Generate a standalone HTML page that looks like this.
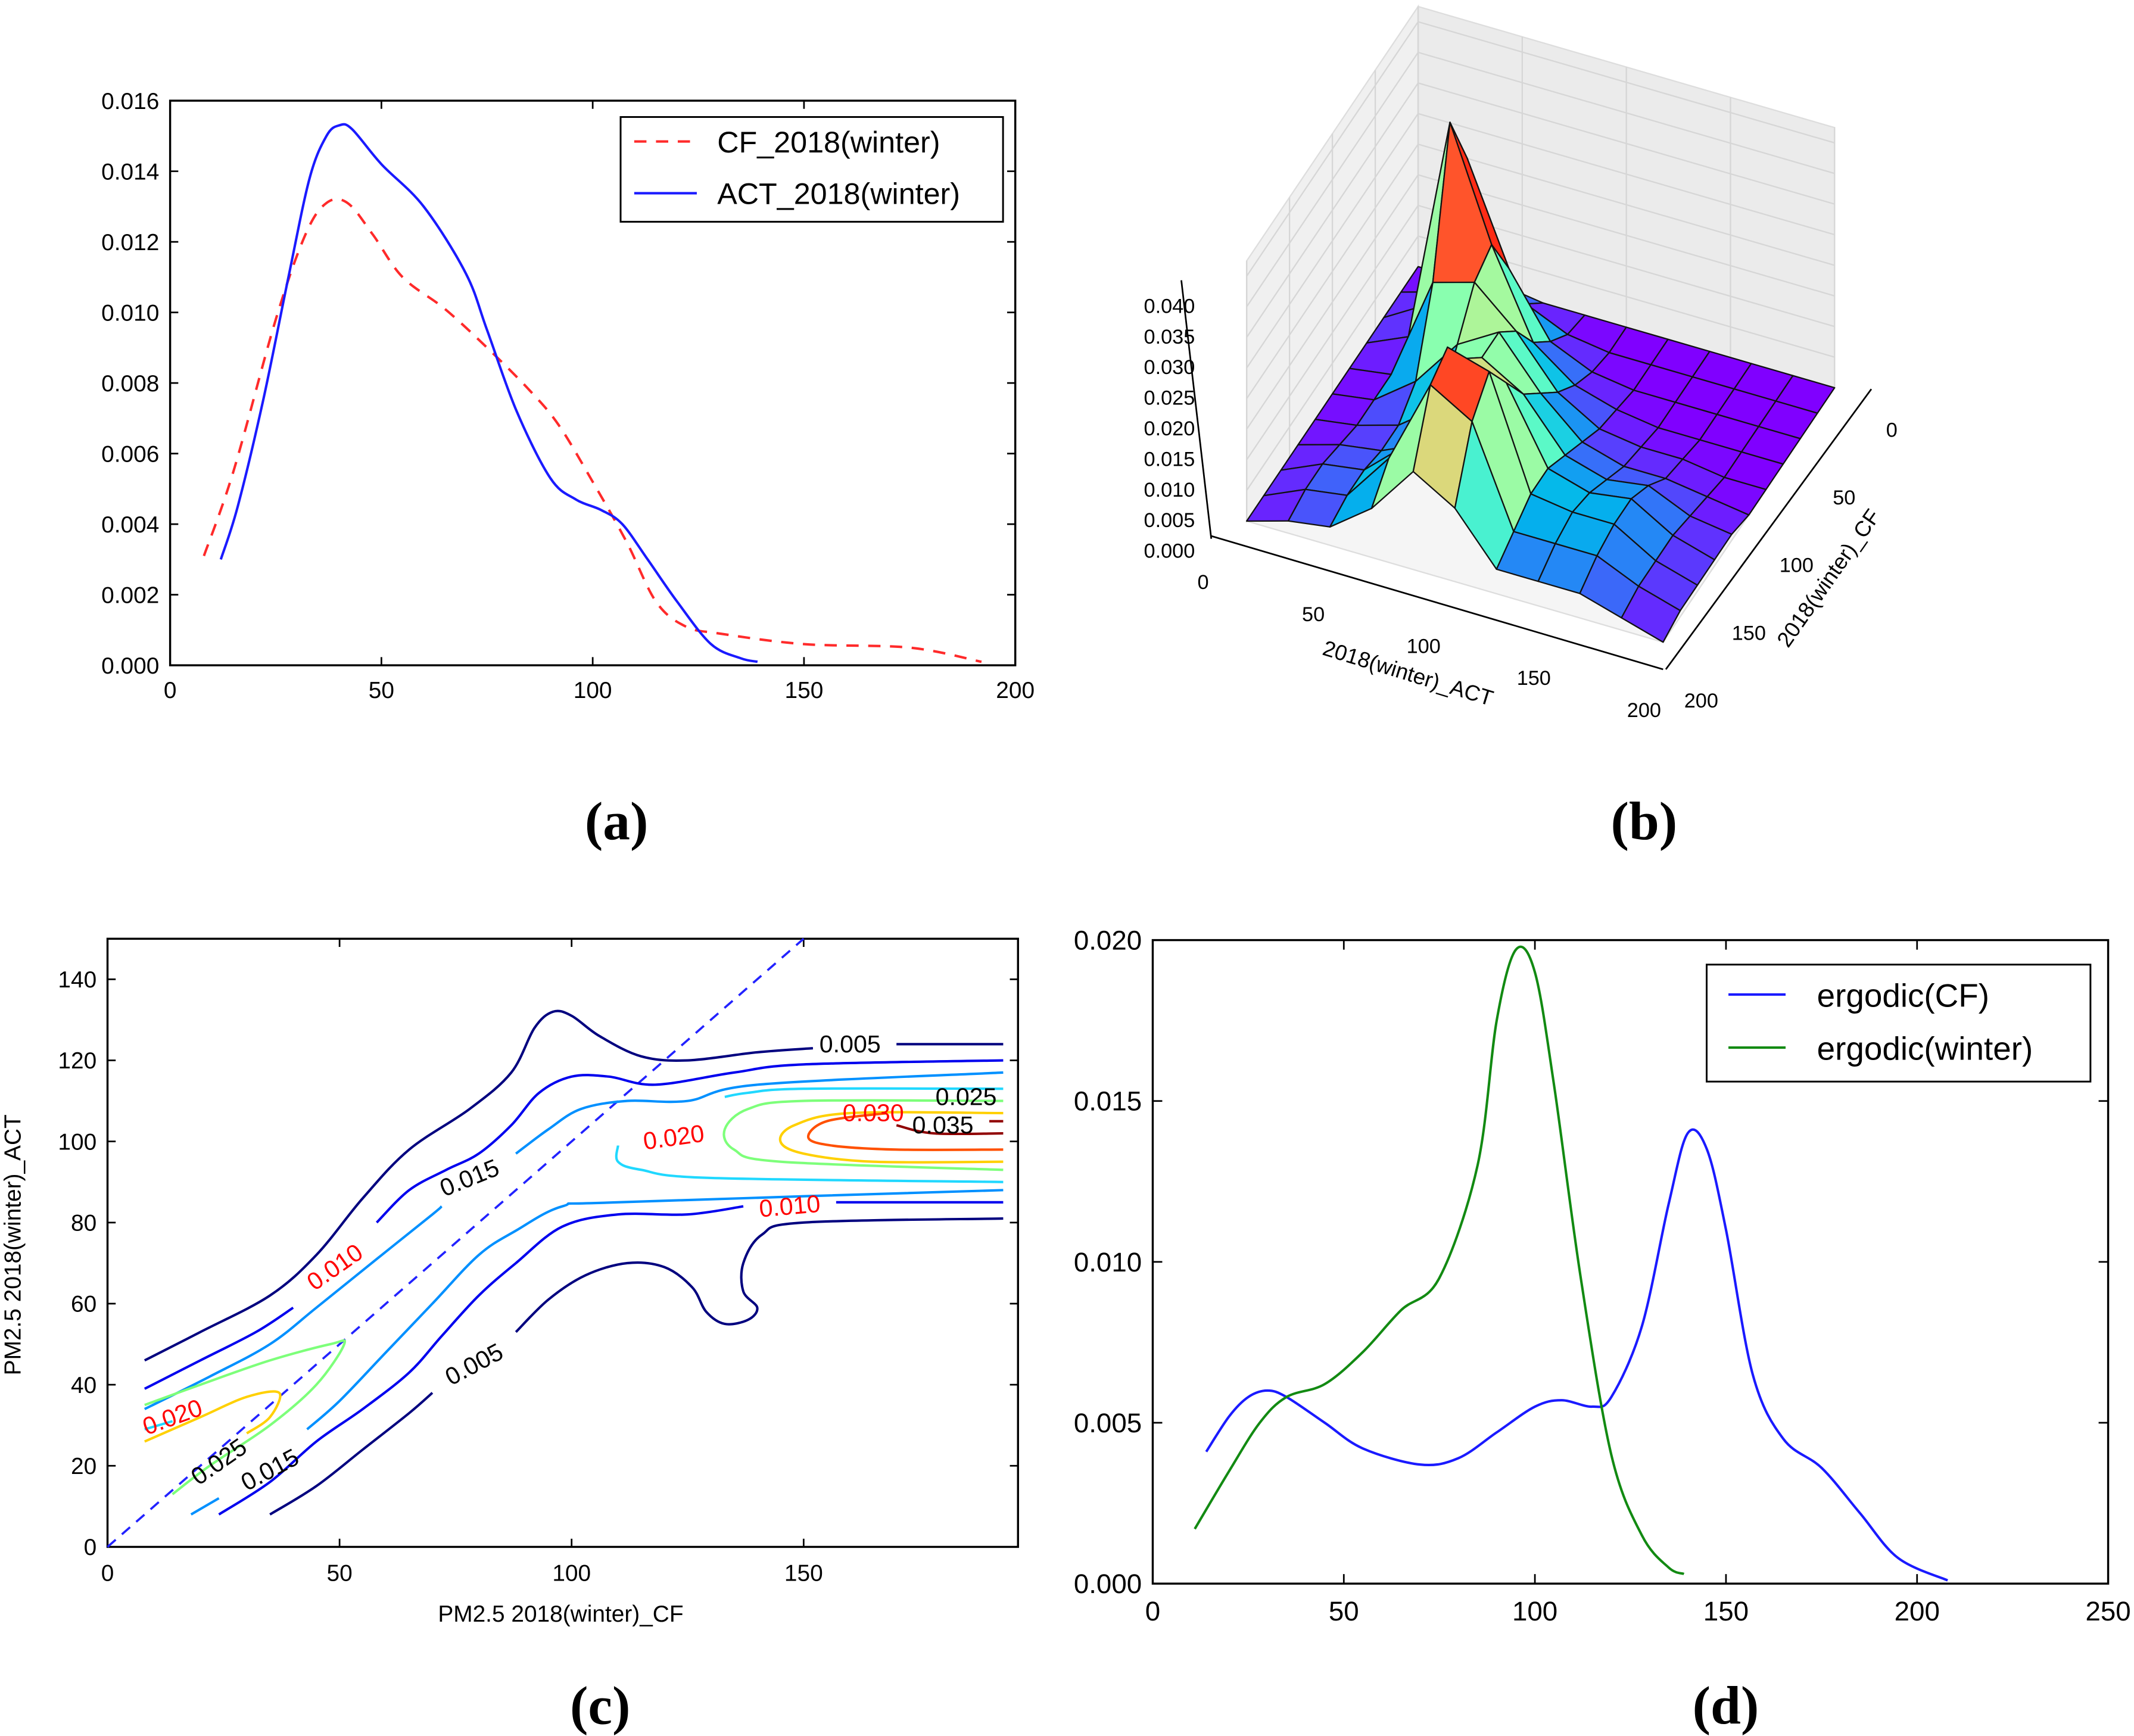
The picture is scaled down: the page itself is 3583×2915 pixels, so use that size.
<!DOCTYPE html>
<html><head><meta charset="utf-8"><style>
html,body{margin:0;padding:0;background:#fff;}
svg{display:block;}
text{font-family:"Liberation Sans",sans-serif;}
.pl{font-family:"Liberation Serif",serif;font-weight:bold;font-size:40px;}
</style></head><body>
<svg id="fig" xmlns="http://www.w3.org/2000/svg" width="3583" height="2915" viewBox="0 0 1568 1276" preserveAspectRatio="none">
<rect x="0" y="0" width="1568" height="1276" fill="#fff"/>
<g id="pa"></g>
<g id="pb"></g>
<g id="pc"></g>
<g id="pd"></g>
<text class="pl" x="453" y="617" text-anchor="middle">(a)</text>
<text class="pl" x="1208" y="617" text-anchor="middle">(b)</text>
<text class="pl" x="441" y="1267" text-anchor="middle">(c)</text>
<text class="pl" x="1268" y="1267" text-anchor="middle">(d)</text>
</svg>
<script>
// ---------- Panel (a) data ----------
const aXTicks = [0,50,100,150,200];
const aYTicks = [0,0.002,0.004,0.006,0.008,0.010,0.012,0.014,0.016];
const aYTickLabels = ["0.000","0.002","0.004","0.006","0.008","0.010","0.012","0.014","0.016"];
const cfX = [8,15,25,32,37,42,48,55,65,75,85,92,100,108,115,122,130,150,175,192];
const cfY = [0.0031,0.0055,0.0098,0.0122,0.0131,0.0131,0.0122,0.011,0.0101,0.009,0.0078,0.0068,0.0052,0.0035,0.0018,0.0011,0.0009,0.0006,0.0005,0.0001];
const actX = [12,16,22,28,33,37,40,43,50,60,70,75,82,90,96,102,107,113,120,128,135,139];
const actY = [0.003,0.0045,0.0075,0.011,0.0138,0.015,0.0153,0.0152,0.0142,0.013,0.0111,0.0095,0.0072,0.0053,0.0047,0.0044,0.004,0.003,0.0018,0.0006,0.0002,0.0001];
// ---------- Panel (b) data (z in units of 0.001; rows ACT 0..200 step 20, cols CF 0..200 step 20) ----------
const bGridStep = 20;
const bZ = [
 [0,0,0,0,0,0,0,0,0,0,0],
 [0,2,4,3,1,1,1,2,3,3,2],
 [1,10,30,40,18,6,3,3,4,4,3],
 [0,4,14,22,20,14,8,6,10,12,8],
 [0,1,4,8,14,18,18,22,28,26,16],
 [0,0,1,3,6,10,14,20,26,22,12],
 [0,0,0,1,2,4,6,8,8,6,4],
 [0,0,0,0,1,2,4,6,7,6,4],
 [0,0,0,0,1,2,5,7,7,6,4],
 [0,0,0,0,0,1,2,3,3,3,2],
 [0,0,0,0,0,0,1,1,1,1,0]];
const bZTicks = [0,5,10,15,20,25,30,35,40];
const bZTickLabels = ["0.000","0.005","0.010","0.015","0.020","0.025","0.030","0.035","0.040"];
const bActTicks = [0,50,100,150,200];
const bCfTicks = [0,50,100,150,200];
// ---------- Panel (c) data ----------
const cXTicks = [0,50,100,150];
const cYTicks = [0,20,40,60,80,100,120,140];
const cLevels = ["0.005","0.010","0.015","0.020","0.025","0.030","0.035","0.040"];
const c005a = [[8,46],[20,53],[35,62],[45,72],[55,86],[65,98],[78,108],[87,117],[92,128],[96,132],[100,131],[106,126],[115,121],[125,120],[140,122],[152,123]];
const c005b = [[170,124],[193,124]];
const c005c = [[35,8],[45,15],[55,24],[65,33],[70,38]];
const c005d = [[88,53],[95,61],[103,67],[112,70],[120,69],[126,64],[129,58],[133,55],[138,56],[140,59],[137,63],[137,70],[141,77],[150,80],[193,81]];
const c010a = [[8,39],[20,46],[32,53],[40,59]];
const c010b = [[58,80],[65,88],[73,93],[80,97],[87,104],[93,112],[100,116],[108,116],[118,114],[135,117],[150,119],[193,120]];
const c010c = [[24,8],[35,16],[45,26],[55,34],[65,43],[72,52],[80,62],[88,70],[98,79],[110,82],[125,82],[137,84]];
const c010d = [[157,85],[193,85]];
const c015a = [[8,34],[22,42],[35,50],[45,59],[58,71],[70,82],[72,84]];
const c015b = [[88,97],[95,103],[102,108],[112,110],[125,110],[140,114],[193,117]];
const c015c = [[43,29],[50,36],[60,48],[70,60],[80,72],[88,78],[98,84],[110,85],[193,88]];
const c015d = [[18,8],[24,12]];
const c020a = [[193,113],[150,113],[138,112],[133,111]];
const c020b = [[110,99],[110,95],[115,93],[130,91],[193,90]];
const c020c = [[8,29],[14,31]];
const c025a = [[193,110],[150,110],[138,108],[133,103],[135,98],[145,95],[193,93]];
const c025b = [[14,13],[22,20],[35,30],[45,40],[51,50],[48,50],[35,46],[20,40],[8,35]];
const c030a = [[193,107],[160,107],[148,104],[145,100],[150,97],[165,95],[193,95]];
const c030b = [[8,26],[20,32],[30,37],[37,38],[35,32],[30,28]];
const c035a = [[168,107],[155,105],[151,101],[156,99],[170,98],[193,98]];
const c040a = [[170,104],[178,102],[193,102]];
const c040b = [[190,105],[193,105]];
const cDiagX = [0,150];
const cDiagY = [0,150];
// ---------- Panel (d) data ----------
const dXTicks = [0,50,100,150,200,250];
const dYTicks = [0,0.005,0.010,0.015,0.020];
const dYTickLabels = ["0.000","0.005","0.010","0.015","0.020"];
const ergCfX = [14,20,25,30,35,45,55,70,80,90,100,107,115,120,128,135,140,145,150,157,165,175,185,195,208];
const ergCfY = [0.0041,0.0052,0.0058,0.006,0.0058,0.005,0.0042,0.0037,0.0039,0.0047,0.0055,0.0057,0.0055,0.0058,0.008,0.0118,0.014,0.0135,0.011,0.0065,0.0045,0.0036,0.0022,0.0008,0.0001];
const ergWX = [11,20,28,35,45,55,65,75,85,90,95,100,105,112,120,128,135,139];
const ergWY = [0.0017,0.0035,0.005,0.0058,0.0062,0.0072,0.0085,0.0095,0.013,0.0175,0.0197,0.019,0.0155,0.0095,0.004,0.0015,0.0005,0.0003];

const NS = "http://www.w3.org/2000/svg";
function el(tag, attrs, parent){
  const e = document.createElementNS(NS, tag);
  for (const k in attrs) e.setAttribute(k, attrs[k]);
  parent.appendChild(e);
  return e;
}
function smooth(pts){
  if (pts.length < 3) return "M" + pts.map(p=>p[0].toFixed(2)+","+p[1].toFixed(2)).join(" L");
  let d = "M" + pts[0][0].toFixed(2) + "," + pts[0][1].toFixed(2);
  for (let i=0;i<pts.length-1;i++){
    const p0=pts[Math.max(0,i-1)], p1=pts[i], p2=pts[i+1], p3=pts[Math.min(pts.length-1,i+2)];
    const c1=[p1[0]+(p2[0]-p0[0])/6, p1[1]+(p2[1]-p0[1])/6];
    const c2=[p2[0]-(p3[0]-p1[0])/6, p2[1]-(p3[1]-p1[1])/6];
    d += " C"+c1[0].toFixed(2)+","+c1[1].toFixed(2)+" "+c2[0].toFixed(2)+","+c2[1].toFixed(2)+" "+p2[0].toFixed(2)+","+p2[1].toFixed(2);
  }
  return d;
}

// ================= Panel (a) =================
(function(){
  const g = document.getElementById('pa');
  const X0=125, X1=746, Y0=489, Y1=74;
  const xa = v => X0 + v*(X1-X0)/200;
  const ya = v => Y0 - v*(Y0-Y1)/0.016;
  const frame = el('rect',{x:X0,y:Y1,width:X1-X0,height:Y0-Y1,fill:'none',stroke:'#000','stroke-width':1.5},g);
  
  
  aXTicks.forEach(v=>{
    const t = el('path',{d:`M${xa(v)},${Y0} v-6 M${xa(v)},${Y1} v6`,stroke:'#000','stroke-width':1.2},g);
    
    
    const l = el('text',{x:xa(v),y:Y0+24,'text-anchor':'middle','font-size':17},g);
    
    
    l.textContent = v;
  });
  aYTicks.forEach((v,i)=>{
    const t = el('path',{d:`M${X0},${ya(v)} h6 M${X1},${ya(v)} h-6`,stroke:'#000','stroke-width':1.2},g);
    
    
    const l = el('text',{x:X0-8,y:ya(v)+6,'text-anchor':'end','font-size':17},g);
    
    
    l.textContent = aYTickLabels[i];
  });
  const cf = el('path',{d:smooth(cfX.map((x,i)=>[xa(x),ya(cfY[i])])),fill:'none',stroke:'#ff2a2a','stroke-width':1.8,'stroke-dasharray':'9,7'},g);
  
  
  const act = el('path',{d:smooth(actX.map((x,i)=>[xa(x),ya(actY[i])])),fill:'none',stroke:'#1a1aff','stroke-width':1.8},g);
  
  
  const lg = el('rect',{x:456,y:86,width:281,height:77,fill:'#fff',stroke:'#000','stroke-width':1.3},g);
  
  
  const l1 = el('line',{x1:466,y1:104,x2:512,y2:104,stroke:'#ff2a2a','stroke-width':1.8,'stroke-dasharray':'9,7'},g);
  
  
  const t1 = el('text',{x:527,y:112,'font-size':22},g);
  
  
  t1.textContent='CF_2018(winter)';
  const l2 = el('line',{x1:466,y1:142,x2:512,y2:142,stroke:'#1a1aff','stroke-width':1.8},g);
  
  
  const t2 = el('text',{x:527,y:150,'font-size':22},g);
  
  
  t2.textContent='ACT_2018(winter)';
})();

// ================= Panel (b) =================
(function(){
  const g = document.getElementById('pb');
  const P = (a,c,z) => [1042 + 1.53*a - 0.63*c, 196 + 0.445*a + 0.935*c - 4.5*z];
  const ZT = 42.5;
  const pts = arr => arr.map(p=>p[0].toFixed(1)+","+p[1].toFixed(1)).join(" ");
  const w1 = el('polygon',{points:pts([P(0,0,0),P(0,200,0),P(0,200,ZT),P(0,0,ZT)]),fill:'#f0f0f0',stroke:'#ddd'},g);
  
  
  const w2 = el('polygon',{points:pts([P(0,0,0),P(200,0,0),P(200,0,ZT),P(0,0,ZT)]),fill:'#ebebeb',stroke:'#ddd'},g);
  
  
  const fl = el('polygon',{points:pts([P(0,0,0),P(200,0,0),P(200,200,0),P(0,200,0)]),fill:'#f5f5f5',stroke:'#ddd'},g);
  
  
  bCfTicks.forEach(c=>{
    const a0=P(0,c,0), a1=P(0,c,ZT);
    const gl = el('line',{x1:a0[0],y1:a0[1],x2:a1[0],y2:a1[1],stroke:'#d6d6d6','stroke-width':1},g);
    
    
  });
  bActTicks.forEach(a=>{
    const a0=P(a,0,0), a1=P(a,0,ZT);
    const gl = el('line',{x1:a0[0],y1:a0[1],x2:a1[0],y2:a1[1],stroke:'#d6d6d6','stroke-width':1},g);
    
    
  });
  bZTicks.forEach(z=>{
    const p0=P(0,200,z), p1=P(0,0,z), p2=P(200,0,z);
    const gl = el('polyline',{points:pts([p0,p1,p2]),fill:'none',stroke:'#d6d6d6','stroke-width':1},g);
    
    
  });
  function rainbow(x){
    x=Math.max(0,Math.min(1,x));
    const r=Math.min(1,Math.abs(2*x-0.5)), gg=Math.sin(Math.PI*x), b=Math.cos(Math.PI*x/2);
    return `rgb(${Math.round(r*255)},${Math.round(gg*255)},${Math.round(b*255)})`;
  }
  const n = bZ.length;
  const cells = [];
  for (let i=0;i<n-1;i++) for (let j=0;j<n-1;j++){
    const a=i*bGridStep, c=j*bGridStep;
    cells.push({i,j,depth:0.445*(a+bGridStep/2)+0.935*(c+bGridStep/2)});
  }
  cells.sort((p,q)=>p.depth-q.depth);
  cells.forEach(cell=>{
    const i=cell.i, j=cell.j, s=bGridStep;
    const z00=bZ[i][j], z10=bZ[i+1][j], z11=bZ[i+1][j+1], z01=bZ[i][j+1];
    const avg=(z00+z10+z11+z01)/4;
    const poly = el('polygon',{points:pts([P(i*s,j*s,z00),P((i+1)*s,j*s,z10),P((i+1)*s,(j+1)*s,z11),P(i*s,(j+1)*s,z01)]),fill:rainbow(avg/28),stroke:'#111','stroke-width':1,'stroke-linejoin':'round'},g);
    
    
  });
  const zb=[890,396], zt=[868,206];
  const za = el('line',{x1:zb[0],y1:zb[1],x2:zt[0],y2:zt[1],stroke:'#000','stroke-width':1.2},g);
  
  
  bZTicks.forEach((z,k)=>{
    const y = 405 - z*4.5;
    const l = el('text',{x:878,y:y+5,'text-anchor':'end','font-size':15},g);
    
    
    l.textContent = bZTickLabels[k];
  });
  const ax = el('line',{x1:890,y1:394,x2:1222,y2:492,stroke:'#000','stroke-width':1.2},g);
  
  
  bActTicks.forEach(v=>{
    const x = 884 + v*(1208-884)/200, y = 433 + v*(527-433)/200;
    const l = el('text',{x:x,y:y,'text-anchor':'middle','font-size':15},g);
    
    
    l.textContent = v;
  });
  const cx = el('line',{x1:1224,y1:492,x2:1375,y2:286,stroke:'#000','stroke-width':1.2},g);
  
  
  bCfTicks.forEach(v=>{
    const x = 1390 - v*(1390-1250)/200, y = 321 + v*(520-321)/200;
    const l = el('text',{x:x,y:y,'text-anchor':'middle','font-size':15},g);
    
    
    l.textContent = v;
  });
  const at = el('text',{x:1033,y:500,'text-anchor':'middle','font-size':16,transform:'rotate(17 1033 500)'},g);
  
  
  at.textContent='2018(winter)_ACT';
  const ct = el('text',{x:1348,y:428,'text-anchor':'middle','font-size':16,transform:'rotate(-55 1348 428)'},g);
  
  
  ct.textContent='2018(winter)_CF';
})();

// ================= Panel (c) =================
(function(){
  const g = document.getElementById('pc');
  const X0=79, X1=748, Y0=1137, Y1=690;
  const xc = v => X0 + v*3.41;
  const yc = v => Y0 - v*2.98;
  const frame = el('rect',{x:X0,y:Y1,width:X1-X0,height:Y0-Y1,fill:'none',stroke:'#000','stroke-width':1.5},g);
  
  
  cXTicks.forEach(v=>{
    const t = el('path',{d:`M${xc(v)},${Y0} v-6 M${xc(v)},${Y1} v6`,stroke:'#000','stroke-width':1.2},g);
    
    
    const l = el('text',{x:xc(v),y:Y0+25,'text-anchor':'middle','font-size':17},g);
    
    
    l.textContent = v;
  });
  cYTicks.forEach(v=>{
    const t = el('path',{d:`M${X0},${yc(v)} h6 M${X1},${yc(v)} h-6`,stroke:'#000','stroke-width':1.2},g);
    
    
    const l = el('text',{x:X0-8,y:yc(v)+6,'text-anchor':'end','font-size':17},g);
    
    
    l.textContent = v;
  });
  const xt = el('text',{x:412,y:1192,'text-anchor':'middle','font-size':17},g);
  
  
  xt.textContent='PM2.5 2018(winter)_CF';
  const yt = el('text',{x:15,y:915,'text-anchor':'middle','font-size':17,transform:'rotate(-90 15 915)'},g);
  
  
  yt.textContent='PM2.5 2018(winter)_ACT';
  const diag = el('line',{x1:xc(cDiagX[0]),y1:yc(cDiagY[0]),x2:xc(cDiagX[1]),y2:yc(cDiagY[1]),stroke:'#2222ff','stroke-width':1.6,'stroke-dasharray':'8,6'},g);
  
  
  const series = [
    [c005a,'#00007f'],[c005b,'#00007f'],[c005c,'#00007f'],[c005d,'#00007f'],
    [c010a,'#0000ee'],[c010b,'#0000ee'],[c010c,'#0000ee'],[c010d,'#0000ee'],
    [c015a,'#0090ff'],[c015b,'#0090ff'],[c015c,'#0090ff'],[c015d,'#0090ff'],
    [c020a,'#20d8ff'],[c020b,'#20d8ff'],[c020c,'#20d8ff'],
    [c025a,'#7dff7a'],[c025b,'#7dff7a'],
    [c030a,'#ffd000'],[c030b,'#ffd000'],
    [c035a,'#ff5000'],
    [c040a,'#900000'],[c040b,'#900000']];
  series.forEach(s=>{
    const p = el('path',{d:smooth(s[0].map(q=>[xc(q[0]),yc(q[1])])),fill:'none',stroke:s[1],'stroke-width':1.8},g);
    
    
  });
  const labels = [
    [cLevels[0],160,124,0,'#000'],[cLevels[0],79,45,-28,'#000'],
    [cLevels[1],49,69,-35,'#ff0000'],[cLevels[1],147,84,-5,'#ff0000'],
    [cLevels[2],78,91,-22,'#000'],[cLevels[2],35,19,-28,'#000'],
    [cLevels[3],122,101,-8,'#ff0000'],[cLevels[3],14,32,-20,'#ff0000'],
    [cLevels[4],185,111,0,'#000'],[cLevels[4],24,21,-35,'#000'],
    [cLevels[5],165,107,0,'#ff0000'],[cLevels[6],180,104,0,'#000']];
  labels.forEach(L=>{
    const x=xc(L[1]), y=yc(L[2]);
    const t = el('text',{x:x,y:y+6,'text-anchor':'middle','font-size':18,fill:L[4],transform:`rotate(${L[3]} ${x} ${y})`},g);
    
    
    t.textContent = L[0];
  });
})();

// ================= Panel (d) =================
(function(){
  const g = document.getElementById('pd');
  const X0=847, X1=1549, Y0=1164, Y1=691;
  const xd = v => X0 + v*(X1-X0)/250;
  const yd = v => Y0 - v*(Y0-Y1)/0.020;
  const frame = el('rect',{x:X0,y:Y1,width:X1-X0,height:Y0-Y1,fill:'none',stroke:'#000','stroke-width':1.5},g);
  
  
  dXTicks.forEach(v=>{
    const t = el('path',{d:`M${xd(v)},${Y0} v-7 M${xd(v)},${Y1} v7`,stroke:'#000','stroke-width':1.2},g);
    
    
    const l = el('text',{x:xd(v),y:Y0+27,'text-anchor':'middle','font-size':20},g);
    
    
    l.textContent = v;
  });
  dYTicks.forEach((v,i)=>{
    const t = el('path',{d:`M${X0},${yd(v)} h7 M${X1},${yd(v)} h-7`,stroke:'#000','stroke-width':1.2},g);
    
    
    const l = el('text',{x:X0-8,y:yd(v)+7,'text-anchor':'end','font-size':20},g);
    
    
    l.textContent = dYTickLabels[i];
  });
  const b = el('path',{d:smooth(ergCfX.map((x,i)=>[xd(x),yd(ergCfY[i])])),fill:'none',stroke:'#1a1aff','stroke-width':1.8},g);
  
  
  const w = el('path',{d:smooth(ergWX.map((x,i)=>[xd(x),yd(ergWY[i])])),fill:'none',stroke:'#128a12','stroke-width':1.8},g);
  
  
  const lg = el('rect',{x:1254,y:709,width:282,height:86,fill:'#fff',stroke:'#000','stroke-width':1.3},g);
  
  
  const l1 = el('line',{x1:1270,y1:731,x2:1312,y2:731,stroke:'#1a1aff','stroke-width':1.8},g);
  
  
  const t1 = el('text',{x:1335,y:740,'font-size':24},g);
  
  
  t1.textContent='ergodic(CF)';
  const l2 = el('line',{x1:1270,y1:770,x2:1312,y2:770,stroke:'#128a12','stroke-width':1.8},g);
  
  
  const t2 = el('text',{x:1335,y:779,'font-size':24},g);
  
  
  t2.textContent='ergodic(winter)';
})();
</script>
</body></html>
